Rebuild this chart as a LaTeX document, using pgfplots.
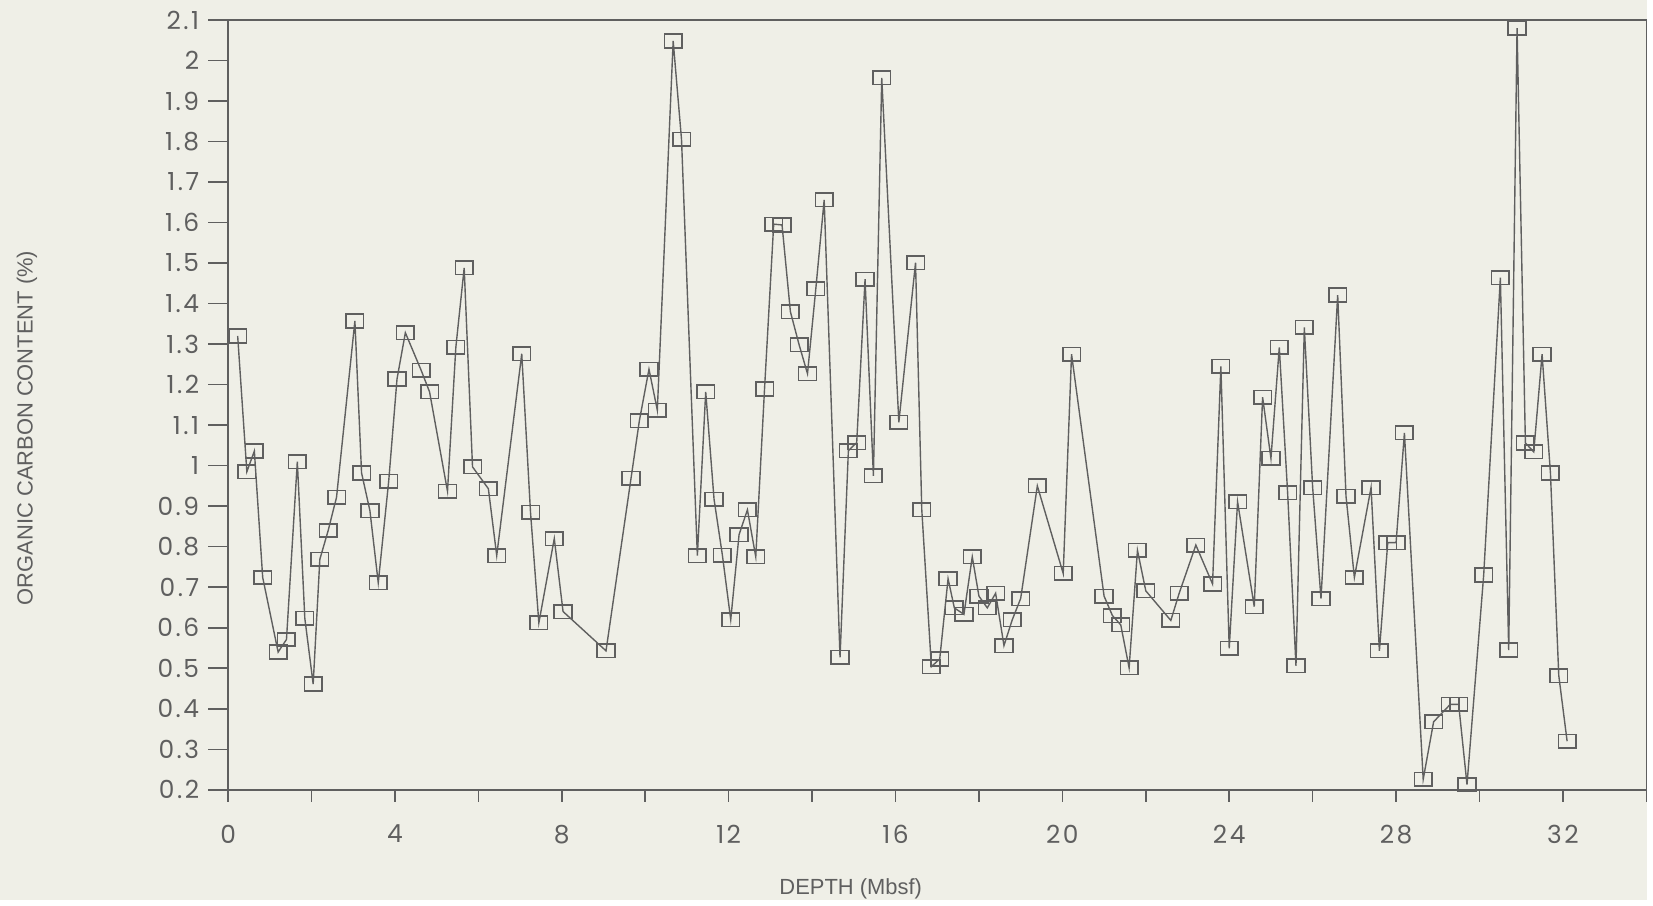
\documentclass[border=0pt]{standalone}
\usepackage{fontspec}
\setmainfont{Liberation Sans}
\newfontfamily\tickfont[LetterSpace=10]{Poppins}
\usepackage{pgfplots}
\pgfplotsset{compat=1.18}
\usetikzlibrary{backgrounds,calc}
\definecolor{paper}{RGB}{239,239,231}
\definecolor{ink}{RGB}{95,95,95}

\begin{document}
\begin{tikzpicture}
\begin{axis}[
  scale only axis,
  width=712pt, height=386.5pt,
  xmin=0, xmax=34, ymin=0.2, ymax=2.1,
  axis line style={ink, line width=0.8pt},
  tick style={ink, line width=0.8pt},
  tick align=outside, major tick length=10pt,
  xtick pos=bottom, ytick pos=left,
  xtick={0,2,...,34},
  xticklabels={0,,4,,8,,12,,16,,20,,24,,28,,32,},
  ytick={0.2,0.3,...,2.15},
  xtick style={/pgfplots/major tick length=6pt},
  /pgf/number format/assume math mode=true,
  ticklabel style={font=\tickfont\fontsize{12.5}{14}\selectfont, text=ink},
  yticklabel style={xshift=-1pt},
  xticklabel style={yshift=-4pt},
  xlabel={DEPTH (Mbsf)},
  ylabel={ORGANIC CARBON CONTENT (\%)},
  label style={font=\fontsize{11}{13}\selectfont, text=ink},
  xlabel style={at={(axis description cs:0.439,0)}, anchor=center, yshift=-49.5pt},
  ylabel style={at={(axis description cs:0,0.47)}, anchor=center, yshift=101pt},
  clip=false,
]
\coordinate (sw) at (rel axis cs:0,0);
\coordinate (ne) at (rel axis cs:1,1);
\addplot[ink, line width=0.7pt, mark=square, mark size=3.4pt,
  mark options={xscale=1.3, line width=0.8pt, solid}] coordinates {
(0.23,1.32) (0.45,0.985) (0.63,1.036) (0.83,0.724) (1.2,0.54) (1.4,0.571)
(1.66,1.01) (1.84,0.623) (2.04,0.461) (2.2,0.769) (2.4,0.84) (2.6,0.922)
(3.04,1.357) (3.2,0.982) (3.4,0.889) (3.6,0.711) (3.85,0.961) (4.05,1.214)
(4.25,1.328) (4.63,1.235) (4.83,1.182) (5.26,0.937) (5.46,1.292) (5.66,1.488)
(5.86,0.997) (6.24,0.943) (6.44,0.778) (7.04,1.276) (7.25,0.885) (7.45,0.612)
(7.82,0.82) (8.03,0.64) (9.06,0.543) (9.66,0.969) (9.86,1.111) (10.09,1.238)
(10.29,1.137) (10.67,2.048) (10.87,1.805) (11.25,0.778) (11.45,1.182) (11.65,0.917)
(11.85,0.779) (12.05,0.62) (12.25,0.83) (12.45,0.891) (12.65,0.775) (12.86,1.189)
(13.08,1.596) (13.28,1.594) (13.48,1.38) (13.69,1.298) (13.89,1.227) (14.09,1.437)
(14.29,1.656) (14.67,0.527) (14.87,1.037) (15.07,1.057) (15.27,1.46) (15.47,0.975)
(15.67,1.957) (16.08,1.107) (16.48,1.501) (16.63,0.891) (16.86,0.504) (17.06,0.523)
(17.26,0.721) (17.41,0.649) (17.64,0.633) (17.84,0.775) (18.0,0.678) (18.2,0.649)
(18.4,0.685) (18.6,0.556) (18.8,0.62) (19.0,0.672) (19.4,0.95) (20.02,0.734)
(20.22,1.275) (21.0,0.678) (21.2,0.63) (21.4,0.607) (21.6,0.501) (21.8,0.791)
(22.0,0.691) (22.6,0.618) (22.8,0.685) (23.2,0.804) (23.6,0.708) (23.8,1.245)
(24.0,0.549) (24.2,0.911) (24.6,0.652) (24.8,1.169) (25.0,1.018) (25.2,1.292)
(25.4,0.933) (25.6,0.506) (25.8,1.341) (26.0,0.946) (26.2,0.672) (26.6,1.421)
(26.8,0.924) (27.0,0.724) (27.4,0.946) (27.6,0.543) (27.8,0.81) (28.0,0.81)
(28.2,1.081) (28.65,0.226) (28.9,0.368) (29.3,0.411) (29.5,0.411) (29.7,0.213)
(30.1,0.73) (30.5,1.464) (30.7,0.545) (30.9,2.08) (31.1,1.056) (31.3,1.034)
(31.5,1.275) (31.7,0.982) (31.9,0.482) (32.1,0.32)
};
\end{axis}
\begin{pgfonlayer}{background}
\fill[paper] ($(sw)+(-114.5pt,-55.5pt)$) rectangle ($(ne)+(0.4pt,10pt)$);
\end{pgfonlayer}
\end{tikzpicture}
\end{document}
